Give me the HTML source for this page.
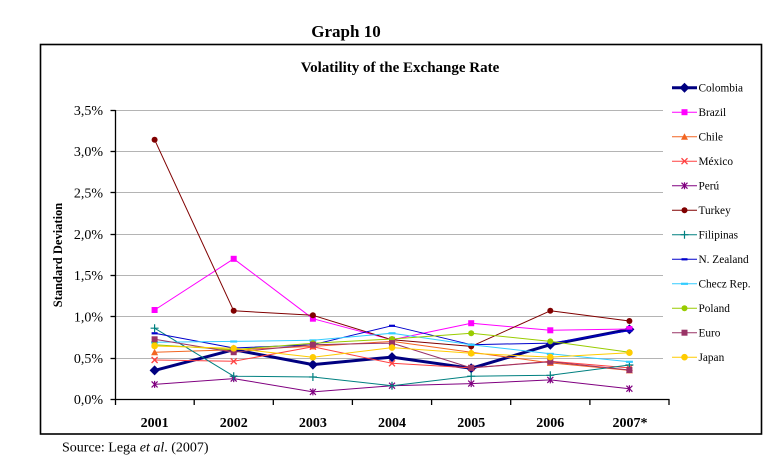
<!DOCTYPE html>
<html><head><meta charset="utf-8"><style>
html,body{margin:0;padding:0;background:#fff;}
svg{display:block;}
text{font-family:"Liberation Serif","DejaVu Serif",serif;fill:#000;}
</style></head><body>
<svg width="778" height="476" viewBox="0 0 778 476" xmlns="http://www.w3.org/2000/svg">
<defs>
<marker id="mCol" markerUnits="userSpaceOnUse" markerWidth="14" markerHeight="14" refX="7" refY="7" overflow="visible"><polygon points="7,2 12,7 7,12 2,7" fill="#000080"/></marker>
<marker id="mBra" markerUnits="userSpaceOnUse" markerWidth="10" markerHeight="10" refX="5" refY="5" overflow="visible"><rect x="2" y="2" width="6" height="6" fill="#FF00FF"/></marker>
<marker id="mChi" markerUnits="userSpaceOnUse" markerWidth="10" markerHeight="10" refX="5" refY="5" overflow="visible"><polygon points="5,1.5 8.5,8 1.5,8" fill="#F26522"/></marker>
<marker id="mMex" markerUnits="userSpaceOnUse" markerWidth="10" markerHeight="10" refX="5" refY="5" overflow="visible"><path d="M2,2L8,8M8,2L2,8" stroke="#FF4040" stroke-width="1.3"/></marker>
<marker id="mPer" markerUnits="userSpaceOnUse" markerWidth="10" markerHeight="10" refX="5" refY="5" overflow="visible"><path d="M2,2L8,8M8,2L2,8M5,1.5L5,8.5" stroke="#800080" stroke-width="1.2"/></marker>
<marker id="mTur" markerUnits="userSpaceOnUse" markerWidth="10" markerHeight="10" refX="5" refY="5" overflow="visible"><circle cx="5" cy="5" r="3" fill="#800000"/></marker>
<marker id="mFil" markerUnits="userSpaceOnUse" markerWidth="10" markerHeight="10" refX="5" refY="5" overflow="visible"><path d="M1,5L9,5M5,1L5,9" stroke="#008080" stroke-width="1.2"/></marker>
<marker id="mNZ" markerUnits="userSpaceOnUse" markerWidth="10" markerHeight="10" refX="5" refY="5" overflow="visible"><rect x="2" y="4" width="6" height="2.2" fill="#0000CC"/></marker>
<marker id="mChe" markerUnits="userSpaceOnUse" markerWidth="10" markerHeight="10" refX="5" refY="5" overflow="visible"><rect x="1.5" y="4" width="7" height="2.2" fill="#33CCFF"/></marker>
<marker id="mPol" markerUnits="userSpaceOnUse" markerWidth="10" markerHeight="10" refX="5" refY="5" overflow="visible"><circle cx="5" cy="5" r="3" fill="#99CC00"/></marker>
<marker id="mEur" markerUnits="userSpaceOnUse" markerWidth="10" markerHeight="10" refX="5" refY="5" overflow="visible"><rect x="2" y="2" width="6" height="6" fill="#993366"/></marker>
<marker id="mJap" markerUnits="userSpaceOnUse" markerWidth="10" markerHeight="10" refX="5" refY="5" overflow="visible"><circle cx="5" cy="5" r="3.3" fill="#FFCC00"/></marker>
</defs>

<!-- titles -->
<text x="346" y="37" font-size="17" font-weight="bold" text-anchor="middle">Graph 10</text>
<rect x="40.5" y="44.5" width="721" height="389.5" fill="none" stroke="#000" stroke-width="1.6"/>
<text x="400" y="72" font-size="15" font-weight="bold" text-anchor="middle">Volatility of the Exchange Rate</text>

<!-- gridlines -->
<g stroke="#b4b4b4" stroke-width="1">
<line x1="115" y1="110.5" x2="663" y2="110.5"/>
<line x1="115" y1="151.5" x2="663" y2="151.5"/>
<line x1="115" y1="192.5" x2="663" y2="192.5"/>
<line x1="115" y1="234.5" x2="663" y2="234.5"/>
<line x1="115" y1="275.5" x2="663" y2="275.5"/>
<line x1="115" y1="316.5" x2="663" y2="316.5"/>
<line x1="115" y1="358.5" x2="663" y2="358.5"/>
</g>

<!-- axes -->
<g stroke="#000" stroke-width="1.3">
<line x1="115.5" y1="110" x2="115.5" y2="400"/>
<line x1="115" y1="399.5" x2="669.5" y2="399.5"/>
<line x1="110.5" y1="110.5" x2="115.5" y2="110.5"/>
<line x1="110.5" y1="151.5" x2="115.5" y2="151.5"/>
<line x1="110.5" y1="192.5" x2="115.5" y2="192.5"/>
<line x1="110.5" y1="234.5" x2="115.5" y2="234.5"/>
<line x1="110.5" y1="275.5" x2="115.5" y2="275.5"/>
<line x1="110.5" y1="316.5" x2="115.5" y2="316.5"/>
<line x1="110.5" y1="358.5" x2="115.5" y2="358.5"/>
<line x1="110.5" y1="399.5" x2="115.5" y2="399.5"/>
<line x1="115.5" y1="399" x2="115.5" y2="405"/>
<line x1="194.2" y1="399" x2="194.2" y2="405"/>
<line x1="273.3" y1="399" x2="273.3" y2="405"/>
<line x1="352.4" y1="399" x2="352.4" y2="405"/>
<line x1="431.6" y1="399" x2="431.6" y2="405"/>
<line x1="510.7" y1="399" x2="510.7" y2="405"/>
<line x1="589.9" y1="399" x2="589.9" y2="405"/>
<line x1="669" y1="399" x2="669" y2="405"/>
</g>

<!-- y labels -->
<g font-size="14" text-anchor="end">
<text x="103" y="115">3,5%</text>
<text x="103" y="156">3,0%</text>
<text x="103" y="197.5">2,5%</text>
<text x="103" y="239">2,0%</text>
<text x="103" y="280">1,5%</text>
<text x="103" y="321.5">1,0%</text>
<text x="103" y="363">0,5%</text>
<text x="103" y="404">0,0%</text>
</g>
<text transform="translate(62,255) rotate(-90)" font-size="12.5" font-weight="bold" text-anchor="middle">Standard Deviation</text>

<!-- x labels -->
<g font-size="14" font-weight="bold" text-anchor="middle">
<text x="154.6" y="427">2001</text>
<text x="233.7" y="427">2002</text>
<text x="312.9" y="427">2003</text>
<text x="392" y="427">2004</text>
<text x="471.2" y="427">2005</text>
<text x="550.3" y="427">2006</text>
<text x="630" y="427">2007*</text>
</g>

<!-- series -->
<g fill="none" stroke-linejoin="round">
<polyline stroke="#000080" stroke-width="3" marker-start="url(#mCol)" marker-mid="url(#mCol)" marker-end="url(#mCol)" points="154.6,370.4 233.7,349.7 312.9,364.6 392,357.1 471.2,368.3 550.3,344.7 629.4,329.4"/>
<polyline stroke="#FF00FF" stroke-width="1" marker-start="url(#mBra)" marker-mid="url(#mBra)" marker-end="url(#mBra)" points="154.6,310 233.7,258.8 312.9,318.7 392,339.8 471.2,323.2 550.3,330.3 629.4,329"/>
<polyline stroke="#F26522" stroke-width="1" marker-start="url(#mChi)" marker-mid="url(#mChi)" marker-end="url(#mChi)" points="154.6,352.2 233.7,349.7 312.9,346.4 392,341.4 471.2,352.2 550.3,362.9 629.4,370.4"/>
<polyline stroke="#FF4040" stroke-width="1" marker-start="url(#mMex)" marker-mid="url(#mMex)" marker-end="url(#mMex)" points="154.6,360 233.7,361.3 312.9,346.7 392,363.3 471.2,367.9 550.3,361.3 629.4,367.9"/>
<polyline stroke="#800080" stroke-width="1" marker-start="url(#mPer)" marker-mid="url(#mPer)" marker-end="url(#mPer)" points="154.6,384.4 233.7,378.6 312.9,391.9 392,385.7 471.2,383.6 550.3,379.9 629.4,388.7"/>
<polyline stroke="#800000" stroke-width="1" marker-start="url(#mTur)" marker-mid="url(#mTur)" marker-end="url(#mTur)" points="154.6,139.7 233.7,310.8 312.9,315.3 392,339.8 471.2,346.4 550.3,310.8 629.4,321"/>
<polyline stroke="#008080" stroke-width="1" marker-start="url(#mFil)" marker-mid="url(#mFil)" marker-end="url(#mFil)" points="154.6,328.2 233.7,376.2 312.9,377 392,385.7 471.2,376.2 550.3,375.3 629.4,365"/>
<polyline stroke="#0000CC" stroke-width="1" marker-start="url(#mNZ)" marker-mid="url(#mNZ)" marker-end="url(#mNZ)" points="154.6,333.2 233.7,348 312.9,344.7 392,325.7 471.2,344.7 550.3,343.1 629.4,330.7"/>
<polyline stroke="#33CCFF" stroke-width="1" marker-start="url(#mChe)" marker-mid="url(#mChe)" marker-end="url(#mChe)" points="154.6,342.3 233.7,341.4 312.9,340.3 392,333.2 471.2,344.7 550.3,353.8 629.4,361.7"/>
<polyline stroke="#99CC00" stroke-width="1" marker-start="url(#mPol)" marker-mid="url(#mPol)" marker-end="url(#mPol)" points="154.6,344.7 233.7,349.7 312.9,343.3 392,339 471.2,333.2 550.3,341.4 629.4,352.2"/>
<polyline stroke="#993366" stroke-width="1" marker-start="url(#mEur)" marker-mid="url(#mEur)" marker-end="url(#mEur)" points="154.6,339.3 233.7,352.2 312.9,344.7 392,343.1 471.2,367.9 550.3,361.7 629.4,370"/>
<polyline stroke="#FFCC00" stroke-width="1" marker-start="url(#mJap)" marker-mid="url(#mJap)" marker-end="url(#mJap)" points="154.6,346 233.7,348.3 312.9,357.3 392,347.6 471.2,353.3 550.3,357.1 629.4,352.7"/>
</g>

<!-- legend -->
<g fill="none">
<polyline stroke="#000080" stroke-width="3" marker-mid="url(#mCol)" points="672,87.7 684.5,87.7 697,87.7"/>
<polyline stroke="#FF00FF" marker-mid="url(#mBra)" points="672,112.2 684.5,112.2 697,112.2"/>
<polyline stroke="#F26522" marker-mid="url(#mChi)" points="672,136.7 684.5,136.7 697,136.7"/>
<polyline stroke="#FF4040" marker-mid="url(#mMex)" points="672,161.2 684.5,161.2 697,161.2"/>
<polyline stroke="#800080" marker-mid="url(#mPer)" points="672,185.7 684.5,185.7 697,185.7"/>
<polyline stroke="#800000" marker-mid="url(#mTur)" points="672,210.2 684.5,210.2 697,210.2"/>
<polyline stroke="#008080" marker-mid="url(#mFil)" points="672,234.7 684.5,234.7 697,234.7"/>
<polyline stroke="#0000CC" marker-mid="url(#mNZ)" points="672,259.2 684.5,259.2 697,259.2"/>
<polyline stroke="#33CCFF" marker-mid="url(#mChe)" points="672,283.7 684.5,283.7 697,283.7"/>
<polyline stroke="#99CC00" marker-mid="url(#mPol)" points="672,308.2 684.5,308.2 697,308.2"/>
<polyline stroke="#993366" marker-mid="url(#mEur)" points="672,332.7 684.5,332.7 697,332.7"/>
<polyline stroke="#FFCC00" marker-mid="url(#mJap)" points="672,357.2 684.5,357.2 697,357.2"/>
</g>
<g font-size="11.3">
<text x="698.5" y="91.7">Colombia</text>
<text x="698.5" y="116.2">Brazil</text>
<text x="698.5" y="140.7">Chile</text>
<text x="698.5" y="165.2">México</text>
<text x="698.5" y="189.7">Perú</text>
<text x="698.5" y="214.2">Turkey</text>
<text x="698.5" y="238.7">Filipinas</text>
<text x="698.5" y="263.2">N. Zealand</text>
<text x="698.5" y="287.7">Checz Rep.</text>
<text x="698.5" y="312.2">Poland</text>
<text x="698.5" y="336.7">Euro</text>
<text x="698.5" y="361.2">Japan</text>
</g>

<!-- source -->
<text x="62" y="451.5" font-size="14">Source: Lega <tspan font-style="italic">et al</tspan>. (2007)</text>
</svg>
</body></html>
